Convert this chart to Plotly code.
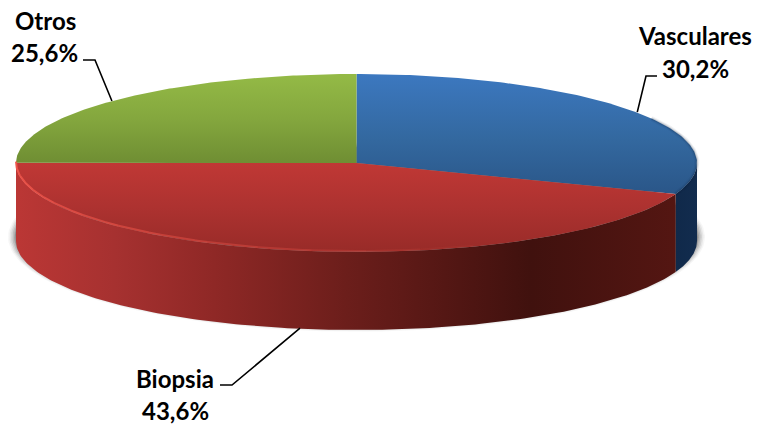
import numpy as np
import plotly.graph_objects as go

labels = ["Vasculares", "Biopsia", "Otros"]
values = [30.2, 43.6, 25.6]
pct_text = ["30,2%", "43,6%", "25,6%"]

top_colors = [
    [[0, "#2a5688"], [0.45, "#33689f"], [1, "#3c78c0"]],
    [[0, "#982b28"], [0.5, "#ad3230"], [1, "#c03835"]],
    [[0, "#6f8e33"], [0.5, "#84a73e"], [1, "#94ba46"]],
]
wall_colors = {
    "Vasculares": [[0, "#10294a"], [1, "#122c4e"]],
    "Biopsia": [[0, "#bb3735"], [0.15, "#a63130"], [0.3, "#8f2826"], [0.5, "#6c1e1b"],
                [0.78, "#40110e"], [1, "#541612"]],
    "Otros": [[0, "#bb3735"], [1, "#bb3735"]],
}

# canvas geometry of the projected disc
CX, CY, RX, RY, DEPTH = 356.5, 163.0, 340.5, 89.0, 78.0
W, H = 757, 428


def warp(theta):
    # small perspective correction of the drawn angle, in degrees
    return theta + np.radians(1.644 * (1 - np.cos(theta)) - 1.235 * np.sin(theta))


def ex(t):
    return CX + RX * np.sin(t)


def ey(t, dy=0.0):
    return CY - RY * np.cos(t) + dy


fractions = np.array(values) / sum(values)
edges = np.concatenate([[0], np.cumsum(fractions)]) * 2 * np.pi
starts, ends = warp(edges[:-1]), warp(edges[1:])
mids = warp((edges[:-1] + edges[1:]) / 2)

fig = go.Figure()


def poly(x, y, **kw):
    fig.add_trace(go.Scatter(x=x, y=y, mode="lines", fill="toself", line=dict(width=0),
                             hoverinfo="skip", showlegend=False, **kw))


# soft drop shadow
full = np.linspace(0, 2 * np.pi, 240)
for grow, alpha in [(8, 0.05), (6.5, 0.08), (5, 0.12), (3.5, 0.16), (2, 0.2), (1, 0.25)]:
    poly(CX + (RX + grow) * np.sin(full),
         CY + DEPTH - 4 - (RY + grow * 0.7) * np.cos(full),
         fillcolor=f"rgba(70,70,70,{alpha})")

# side walls (front half of the disc only)
for i, name in enumerate(labels):
    a = max(starts[i], np.pi / 2)
    b = min(ends[i], 3 * np.pi / 2)
    if b <= a:
        continue
    t = np.linspace(a, b, 160)
    x = np.concatenate([ex(t), ex(t[::-1])])
    y = np.concatenate([ey(t), ey(t[::-1], DEPTH)])
    poly(x, y, fillcolor="rgba(0,0,0,0)",
         fillgradient=dict(type="horizontal", colorscale=wall_colors[name]))

# top faces
for i, name in enumerate(labels):
    t = np.linspace(starts[i], ends[i], 160)
    x = np.concatenate([[CX], ex(t), [CX]])
    y = np.concatenate([[CY], ey(t), [CY]])
    poly(x, y, fillcolor="rgba(0,0,0,0)",
         fillgradient=dict(type="vertical", colorscale=top_colors[i]))

# darker soft rim on the blue face
for width, alpha in [(5, 0.06), (3, 0.09), (1.5, 0.14)]:
    t = np.linspace(np.radians(60), ends[0], 60)
    fig.add_trace(go.Scatter(x=ex(t), y=ey(t), mode="lines", hoverinfo="skip", showlegend=False,
                             line=dict(color=f"rgba(10,30,60,{alpha})", width=width)))

# bright bevel on the red face, fading to the right
bevel = np.linspace(ends[1], np.radians(160), 13)
for k in range(len(bevel) - 1):
    t = np.linspace(bevel[k], bevel[k + 1], 20)
    fig.add_trace(go.Scatter(x=ex(t), y=ey(t) - 1, mode="lines", hoverinfo="skip", showlegend=False,
                             line=dict(color=f"rgba(238,85,75,{0.95 * (1 - k / 12):.2f})", width=2)))

# leader lines: anchor comes from each slice's mid angle
anchor_nudge = [(4, 1), (13, 0), (-4, 1)]
anchor_depth = [0, DEPTH, 0]
elbows = [[(646, 76), (657, 76)], [(232, 385), (220, 385)], [(95, 60), (83, 60)]]
for i in range(3):
    ax = ex(mids[i]) + anchor_nudge[i][0]
    ay = ey(mids[i], anchor_depth[i]) + anchor_nudge[i][1]
    xs = [ax] + [p[0] for p in elbows[i]]
    ys = [ay] + [p[1] for p in elbows[i]]
    fig.add_trace(go.Scatter(x=xs, y=ys, mode="lines", hoverinfo="skip", showlegend=False,
                             line=dict(color="black", width=1.6)))

# labels
name_pos = [(695, 35), (175, 378), (45, 20)]
pct_pos = [(695, 68), (175, 410), (44, 52)]
font = dict(family="Lato", size=24, color="black", weight="bold")
for i in range(3):
    for txt, (px, py) in ((labels[i], name_pos[i]), (pct_text[i], pct_pos[i])):
        fig.add_annotation(x=px, y=py, text=f"<b>{txt}</b>", showarrow=False, font=font,
                           xanchor="center", yanchor="middle")

fig.update_layout(
    width=W, height=H, margin=dict(l=0, r=0, t=0, b=0),
    paper_bgcolor="white", plot_bgcolor="white", showlegend=False,
    xaxis=dict(range=[0, W], visible=False, fixedrange=True),
    yaxis=dict(range=[H, 0], visible=False, fixedrange=True),
)
fig.write_html("out.html", config={"displayModeBar": False},
               post_script="document.body.style.margin='0';document.body.style.overflow='hidden';")
